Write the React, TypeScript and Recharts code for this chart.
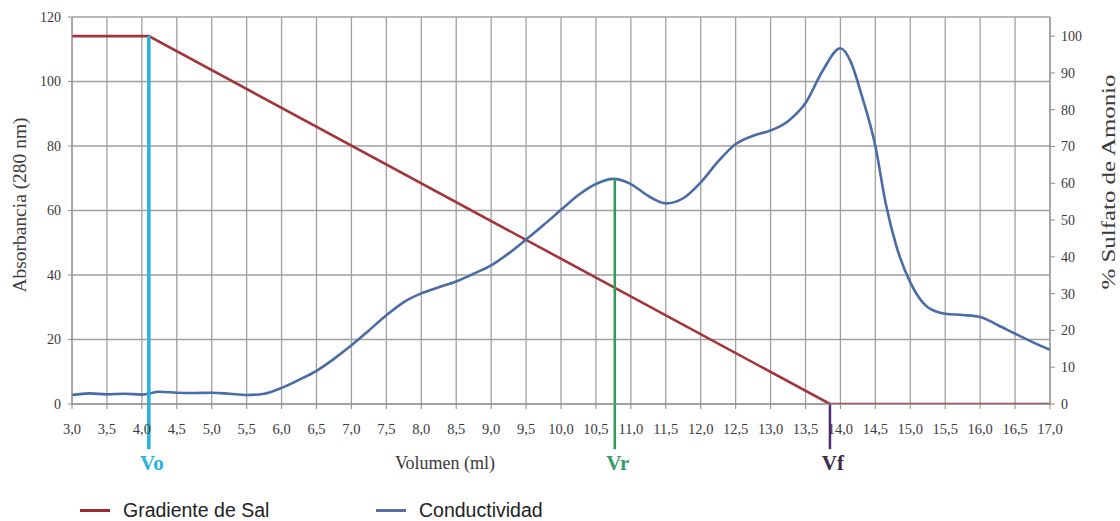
import React from 'react';
import { LineChart, Line, XAxis, YAxis, CartesianGrid, ReferenceLine } from 'recharts';

// ---- data ----
const absorbanceVolumes = [
  3.0, 3.25, 3.5, 3.75, 4.0, 4.25, 4.5, 4.75, 5.0, 5.25, 5.5, 5.75, 6.0, 6.25, 6.5, 6.75,
  7.0, 7.25, 7.5, 7.75, 8.0, 8.25, 8.5, 8.75, 9.0, 9.25, 9.5, 9.75, 10.0, 10.25, 10.5, 10.75,
  11.0, 11.25, 11.5, 11.75, 12.0, 12.25, 12.5, 12.75, 13.0, 13.25, 13.5, 13.75, 14.0, 14.15,
  14.3, 14.5, 14.65, 14.8, 15.0, 15.25, 15.5, 15.75, 16.0, 16.25, 16.5, 16.75, 17.0,
];
const absorbanceValues = [
  2.8, 3.3, 3.0, 3.2, 2.9, 3.8, 3.5, 3.4, 3.5, 3.2, 2.8, 3.2, 5.0, 7.5, 10.3, 14.0,
  18.2, 22.8, 27.5, 31.6, 34.3, 36.2, 38.0, 40.4, 43.0, 46.7, 51.0, 55.5, 60.2, 64.8, 68.2, 69.8,
  68.2, 64.5, 62.2, 63.8, 68.7, 75.2, 80.6, 83.2, 84.8, 87.7, 93.3, 103.5, 110.3, 106.0,
  96.0, 80.0, 62.0, 49.0, 37.7, 30.0, 28.0, 27.6, 27.0, 24.5, 21.8, 19.2, 16.8,
];
const saltVolumes = [3.0, 4.1, 13.85, 17.0];
const saltValues = [100, 100, 0, 0];

const xTicks = [3.0, 3.5, 4.0, 4.5, 5.0, 5.5, 6.0, 6.5, 7.0, 7.5, 8.0, 8.5, 9.0, 9.5, 10.0, 10.5,
  11.0, 11.5, 12.0, 12.5, 13.0, 13.5, 14.0, 14.5, 15.0, 15.5, 16.0, 16.5, 17.0];
const leftTicks = [0, 20, 40, 60, 80, 100, 120];
const rightTicks = [0, 10, 20, 30, 40, 50, 60, 70, 80, 90, 100];

const markerNames = ['Vo', 'Vr', 'Vf'];
const markerVolumes = [4.1, 10.77, 13.85];
const markerTops = [114.1, 69.9, 0];
const markerBottom = -14;

const seriesNames = ['Gradiente de Sal', 'Conductividad'];

// ---- styles ----
const RED = '#a3343a';
const BLUE = '#4a6ca6';
const markerColors = ['#27b2dc', '#2e9c57', '#4b2c7a'];
const markerTextColors = ['#27b2dc', '#3a9a6a', '#3a2d4a'];
const markerWidths = [3.5, 2.5, 2.5];
const GRID = '#a0a0a0';
const AXIS = '#8c8c8c';
const TXT = '#3a3a3a';
const SERIF = '"Liberation Serif", "Times New Roman", serif';
const SANS = '"Liberation Sans", Arial, sans-serif';

// merged table
const volSet = Array.from(new Set([...absorbanceVolumes, ...saltVolumes])).sort((a, b) => a - b);
const data = volSet.map((v) => {
  const ai = absorbanceVolumes.indexOf(v);
  const si = saltVolumes.indexOf(v);
  return {
    vol: v,
    abs: ai >= 0 ? absorbanceValues[ai] : null,
    salt: si >= 0 ? saltValues[si] : null,
  };
});

const fmt = (v: number) => v.toFixed(1).replace('.', ',');

export default function App() {
  return (
    <div style={{ position: 'absolute', left: 0, top: 0, width: 1120, height: 521, background: '#fff' }}>
      <LineChart width={1120} height={521} data={data} margin={{ top: 17, right: 30, bottom: 87, left: 42 }}>
        <CartesianGrid yAxisId="left" stroke={GRID} strokeWidth={1.3} />
        <XAxis
          dataKey="vol"
          type="number"
          domain={[3, 17]}
          ticks={xTicks}
          interval={0}
          tickFormatter={fmt}
          height={30}
          stroke={AXIS}
          tickSize={5}
          tickMargin={10}
          tick={{ fill: TXT, fontFamily: SERIF, fontSize: 14.5, dy: 5 }}
          label={{
            content: (p: any) => {
              const vb = p.viewBox || { x: 72, y: 404 };
              return (
                <text x={vb.x + 373} y={vb.y + 65} textAnchor="middle" fontFamily={SERIF} fontSize={18} fill={TXT}>
                  Volumen (ml)
                </text>
              );
            },
          }}
        />
        <YAxis
          yAxisId="left"
          domain={[0, 120]}
          ticks={leftTicks}
          width={30}
          stroke={AXIS}
          tickSize={4}
          tickMargin={7}
          tick={{ fill: TXT, fontFamily: SERIF, fontSize: 14 }}
          label={{
            content: (p: any) => {
              const vb = p.viewBox || { x: 42, y: 17, height: 387 };
              const cx = vb.x - 22;
              const cy = vb.y + 188;
              return (
                <text
                  x={cx}
                  y={cy}
                  transform={`rotate(-90 ${cx} ${cy})`}
                  textAnchor="middle"
                  dominantBaseline="central"
                  fontFamily={SERIF}
                  fontSize={18}
                  fill={TXT}
                  textLength={175}
                  lengthAdjust="spacingAndGlyphs"
                >
                  Absorbancia (280 nm)
                </text>
              );
            },
          }}
        />
        <YAxis
          yAxisId="right"
          orientation="right"
          domain={[0, 105.2]}
          ticks={rightTicks}
          allowDataOverflow
          width={40}
          stroke={AXIS}
          tickSize={5}
          tickMargin={6}
          tick={{ fill: TXT, fontFamily: SERIF, fontSize: 14 }}
          label={{
            content: (p: any) => {
              const vb = p.viewBox || { x: 1050, y: 17 };
              const cx = vb.x + 59;
              const cy = vb.y + 165;
              return (
                <text
                  x={cx}
                  y={cy}
                  transform={`rotate(-90 ${cx} ${cy})`}
                  textAnchor="middle"
                  dominantBaseline="central"
                  fontFamily={SERIF}
                  fontSize={18}
                  fill={TXT}
                  textLength={215}
                  lengthAdjust="spacingAndGlyphs"
                >
                  % Sulfato de Amonio
                </text>
              );
            },
          }}
        />
        <Line
          yAxisId="right"
          dataKey="salt"
          type="linear"
          stroke={RED}
          strokeWidth={2.6}
          dot={false}
          activeDot={false}
          connectNulls
          isAnimationActive={false}
          name={seriesNames[0]}
        />
        <Line
          yAxisId="left"
          dataKey="abs"
          type="monotone"
          stroke={BLUE}
          strokeWidth={2.6}
          dot={false}
          activeDot={false}
          connectNulls
          isAnimationActive={false}
          name={seriesNames[1]}
        />
        {markerNames.map((name, i) => (
          <ReferenceLine
            key={name}
            yAxisId="left"
            ifOverflow="visible"
            segment={[
              { x: markerVolumes[i], y: markerTops[i] },
              { x: markerVolumes[i], y: markerBottom },
            ]}
            stroke={markerColors[i]}
            strokeWidth={markerWidths[i]}
            label={{
              content: (p: any) => {
                const vb = p.viewBox || { x: 0, y: 0, height: 0 };
                return (
                  <text
                    x={vb.x + 3}
                    y={vb.y + (vb.height || 0) + 21}
                    textAnchor="middle"
                    fontFamily={SERIF}
                    fontWeight="bold"
                    fontSize={21}
                    fill={markerTextColors[i]}
                  >
                    {name}
                  </text>
                );
              },
            }}
          />
        ))}
      </LineChart>
      {seriesNames.map((n, i) => (
        <div
          key={n}
          style={{
            position: 'absolute',
            left: i === 0 ? 80 : 376,
            top: 498,
            height: 24,
            display: 'flex',
            alignItems: 'center',
            fontFamily: SANS,
            fontSize: 19.5,
            color: '#222',
            whiteSpace: 'nowrap',
          }}
        >
          <span style={{ display: 'inline-block', width: 30, height: 3, background: i === 0 ? '#a0282e' : '#5a6ea3', marginRight: 13 }} />
          {n}
        </div>
      ))}
    </div>
  );
}
